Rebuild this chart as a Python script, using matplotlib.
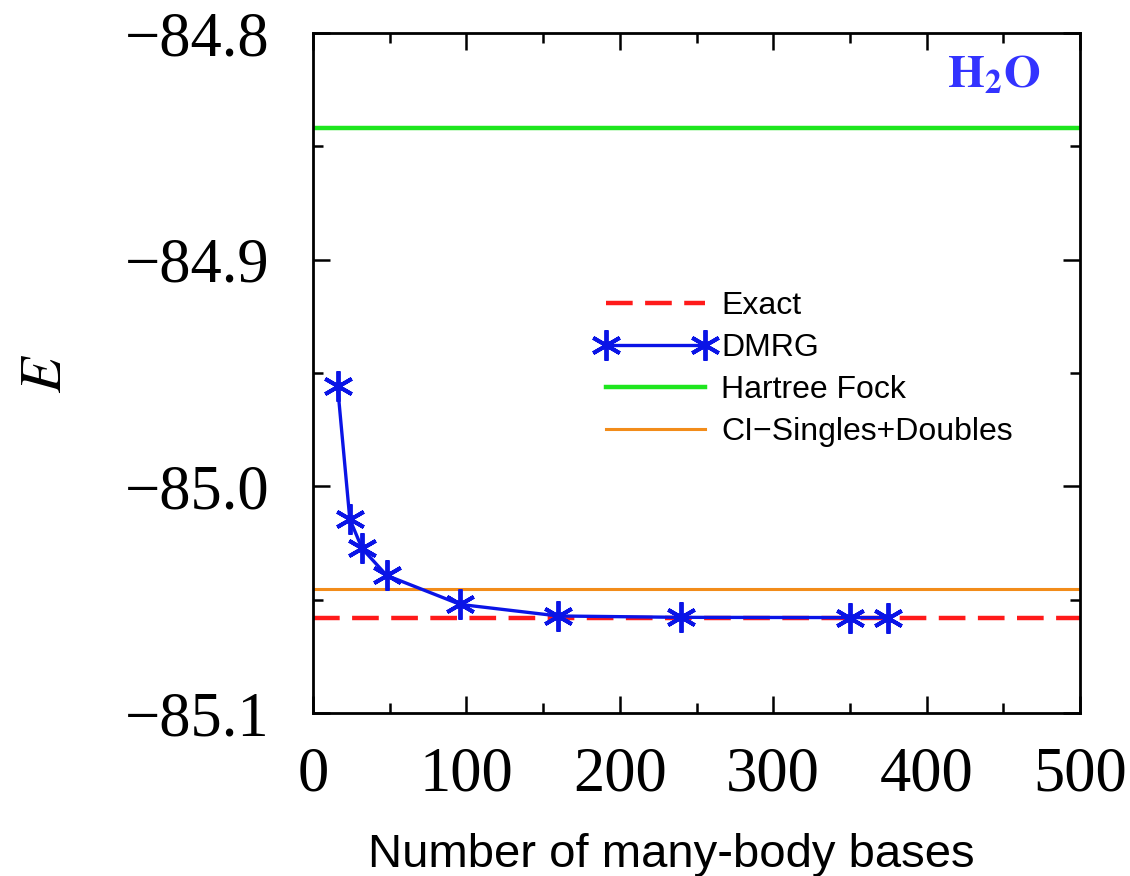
import matplotlib
matplotlib.use("Agg")
import matplotlib.pyplot as plt
from matplotlib.ticker import MultipleLocator

plt.rcParams['mathtext.fontset'] = 'stix'

# DMRG convergence with number of many-body bases
n_bases = [16, 24, 32, 48, 96, 160, 240, 350, 375]
e_dmrg = [-84.9557, -85.0145, -85.0274, -85.0393, -85.0521, -85.0572,
          -85.0578, -85.0579, -85.0579]

# reference energies
e_exact = -85.0583
e_hf = -84.8419
e_cisd = -85.0454

fig = plt.figure(figsize=(11.3, 8.76), dpi=100)
ax = fig.add_axes([313 / 1130, 1 - 713 / 876, 767 / 1130, 680 / 876])

ax.axhline(e_exact, color='#ff1a1a', lw=3.2, ls=(0, (6, 2.8)), label='Exact', zorder=2)
ax.plot(n_bases, e_dmrg, color='#0a14e6', lw=2.4, marker=(6, 2, 0), ms=22,
        mew=2.8, label='DMRG', zorder=3)
ax.axhline(e_hf, color='#1ee61e', lw=3.2, label='Hartree Fock')
ax.axhline(e_cisd, color='#f28c1a', lw=2.2, label='CI\u2212Singles+Doubles')

ax.set_xlim(0, 500)
ax.set_ylim(-85.1, -84.8)
ax.xaxis.set_major_locator(MultipleLocator(100))
ax.xaxis.set_minor_locator(MultipleLocator(50))
ax.yaxis.set_major_locator(MultipleLocator(0.1))
ax.yaxis.set_minor_locator(MultipleLocator(0.05))
ax.yaxis.set_major_formatter(plt.FuncFormatter(lambda v, p: f"{v:.1f}".replace('-', '\u2212')))
ax.tick_params(which='both', direction='in', top=True, right=True, width=1.8)
ax.tick_params(which='major', length=12)
ax.tick_params(which='minor', length=7)
ax.tick_params(axis='x', which='major', pad=24)
ax.tick_params(axis='y', which='major', pad=31)
for lab in ax.get_xticklabels() + ax.get_yticklabels():
    lab.set_family('Liberation Serif')
    lab.set_fontsize(45)
for s in ax.spines.values():
    s.set_linewidth(2)

ax.set_xlabel('Number of many-body bases', family='Liberation Sans', fontsize=34)
ax.xaxis.set_label_coords(0.467, -0.176)
ylab = ax.set_ylabel('$E$', fontsize=42)
ylab.set_va('center')
ax.yaxis.set_label_coords(-0.35, 0.5)

ax.text(0.948, 0.938, r'$\mathbf{H_2O}$', color='#3333ff', fontsize=34,
        transform=ax.transAxes, ha='right', va='center')

ax.legend(loc='upper left', bbox_to_anchor=(0.370, 0.621), frameon=False,
          prop={'family': 'Liberation Sans', 'size': 23}, handlelength=3.7,
          numpoints=2, labelspacing=0.38, handletextpad=0.2,
          borderpad=0, borderaxespad=0)

fig.savefig('out.png', dpi=100)
